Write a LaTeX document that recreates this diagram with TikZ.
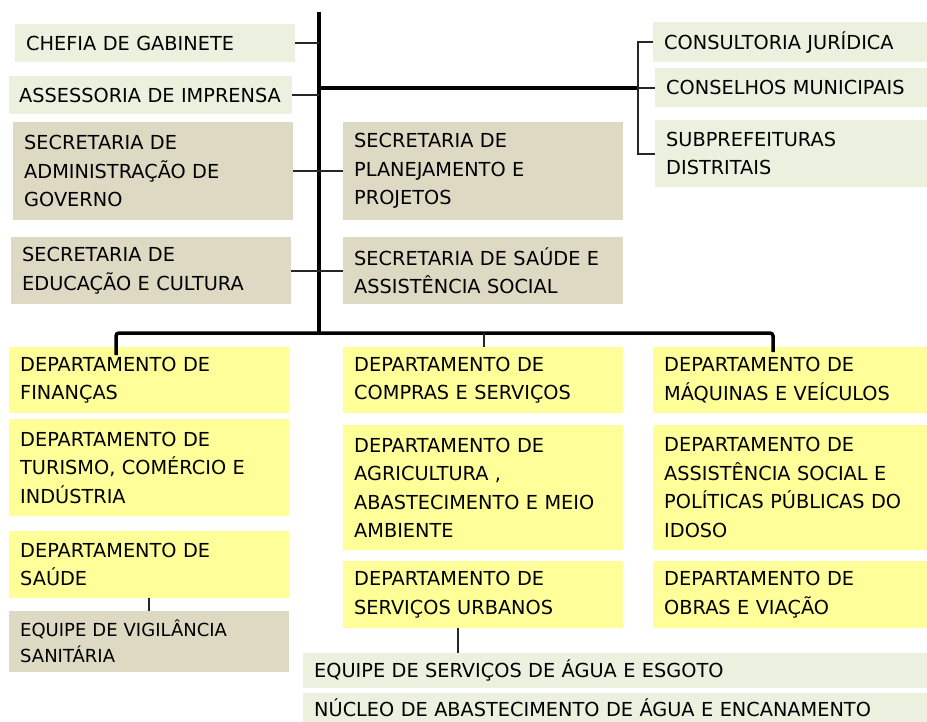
\documentclass[tikz,border=0pt]{standalone}
\usepackage{fontspec}
\setmainfont{DejaVu Sans}
\usepackage{xcolor}
\definecolor{verdeclaro}{HTML}{EBF1DE}
\definecolor{bege}{HTML}{DDD9C3}
\definecolor{amarelo}{HTML}{FFFF99}
\definecolor{linha}{HTML}{262626}

\begin{document}
\begin{tikzpicture}[x=1pt,y=-1pt,
    caixa/.style={anchor=north west,inner xsep=11pt,inner ysep=0pt,align=left,
        font=\fontsize{19.3}{28.5}\selectfont},
    assessoria/.style={caixa,fill=verdeclaro},
    secretaria/.style={caixa,fill=bege},
    departamento/.style={caixa,fill=amarelo},
    tronco/.style={line width=3.5pt,black},
    ligacao/.style={line width=2.3pt,linha}]
                \useasboundingbox (0,0) rectangle (927,722);
                % orgaos de assessoria
                \node[assessoria,text width=258pt,minimum height=38pt] (chefia) at (15,24) {CHEFIA DE GABINETE};
                \node[assessoria,text width=263pt,minimum height=38pt,inner xsep=10pt] (imprensa) at (9,76) {ASSESSORIA DE IMPRENSA};
                \node[assessoria,text width=252pt,minimum height=40pt] (juridica) at (653,22) {CONSULTORIA JURÍDICA};
                \node[assessoria,text width=250pt,minimum height=39pt] (conselhos) at (655,68) {CONSELHOS MUNICIPAIS};
                \node[assessoria,text width=250pt,minimum height=67pt] (subpref) at (655,120) {SUBPREFEITURAS\\DISTRITAIS};
                % secretarias
                \node[secretaria,text width=258pt,minimum height=98pt] (admin) at (13,122) {SECRETARIA DE\\ADMINISTRAÇÃO DE\\GOVERNO};
                \node[secretaria,text width=258pt,minimum height=98pt] (planej) at (343,122) {SECRETARIA DE\\PLANEJAMENTO E\\PROJETOS};
                \node[secretaria,text width=258pt,minimum height=67pt] (educ) at (11,237) {SECRETARIA DE\\EDUCAÇÃO E CULTURA};
                \node[secretaria,text width=258pt,minimum height=67pt] (saudesec) at (343,237) {SECRETARIA DE SAÚDE E\\ASSISTÊNCIA SOCIAL};
                % departamentos
                \node[departamento,text width=258pt,minimum height=66pt] (financas) at (9,347) {DEPARTAMENTO DE\\FINANÇAS};
                \node[departamento,text width=258pt,minimum height=97pt] (turismo) at (9,419) {DEPARTAMENTO DE\\TURISMO, COMÉRCIO E\\INDÚSTRIA};
                \node[departamento,text width=258pt,minimum height=67pt] (saudedep) at (9,531) {DEPARTAMENTO DE\\SAÚDE};
                \node[secretaria,text width=258pt,minimum height=61pt,font=\fontsize{18}{26}\selectfont] (vigilancia) at (9,611) {EQUIPE DE VIGILÂNCIA\\SANITÁRIA};
                \node[departamento,text width=258pt,minimum height=66pt] (compras) at (343,347) {DEPARTAMENTO DE\\COMPRAS E SERVIÇOS};
                \node[departamento,text width=258pt,minimum height=125pt] (agric) at (343,425) {DEPARTAMENTO DE\\AGRICULTURA ,\\ABASTECIMENTO E MEIO\\AMBIENTE};
                \node[departamento,text width=258pt,minimum height=67pt] (urbanos) at (343,561) {DEPARTAMENTO DE\\SERVIÇOS URBANOS};
                \node[departamento,text width=252pt,minimum height=66pt] (maquinas) at (653,347) {DEPARTAMENTO DE\\MÁQUINAS E VEÍCULOS};
                \node[departamento,text width=252pt,minimum height=125pt] (assist) at (653,425) {DEPARTAMENTO DE\\ASSISTÊNCIA SOCIAL E\\POLÍTICAS PÚBLICAS DO\\IDOSO};
                \node[departamento,text width=252pt,minimum height=67pt] (obras) at (653,561) {DEPARTAMENTO DE\\OBRAS E VIAÇÃO};
                \node[assessoria,text width=602pt,minimum height=35pt] (agua) at (303,653) {EQUIPE DE SERVIÇOS DE ÁGUA E ESGOTO};
                \node[assessoria,text width=602pt,minimum height=29pt] (nucleo) at (303,693) {NÚCLEO DE ABASTECIMENTO DE ÁGUA E ENCANAMENTO};
                % tronco principal e barramento
                \coordinate (topo) at (319,12);
                \coordinate (base) at (319,333);
                \coordinate (ramo) at (638,88);
                \draw[tronco] (topo) -- (base);
                \draw[tronco] (ramo -| base) -- (ramo);
                \draw[tronco,rounded corners=3pt] (116,355) |- (base) -| (773,352);
                \draw[ligacao] (484,333) -- (compras.north -| 484,0);
                % ligacoes
                \draw[ligacao] (chefia.east) -- (chefia.east -| base);
                \draw[ligacao] (imprensa.east) -- (imprensa.east -| base);
                \draw[ligacao] (admin.east) -- (planej.west);
                \draw[ligacao] (educ.east) -- (saudesec.west);
                \draw[ligacao] (juridica.west) -| (subpref.west -| ramo) -- (subpref.west);
                \draw[ligacao] (conselhos.west) -- (conselhos.west -| ramo);
                \draw[ligacao] (saudedep.south) -- (vigilancia.north);
                \draw[ligacao] (urbanos.south -| 458,0) -- (agua.north -| 458,0);
            \end{tikzpicture}
\end{document}
